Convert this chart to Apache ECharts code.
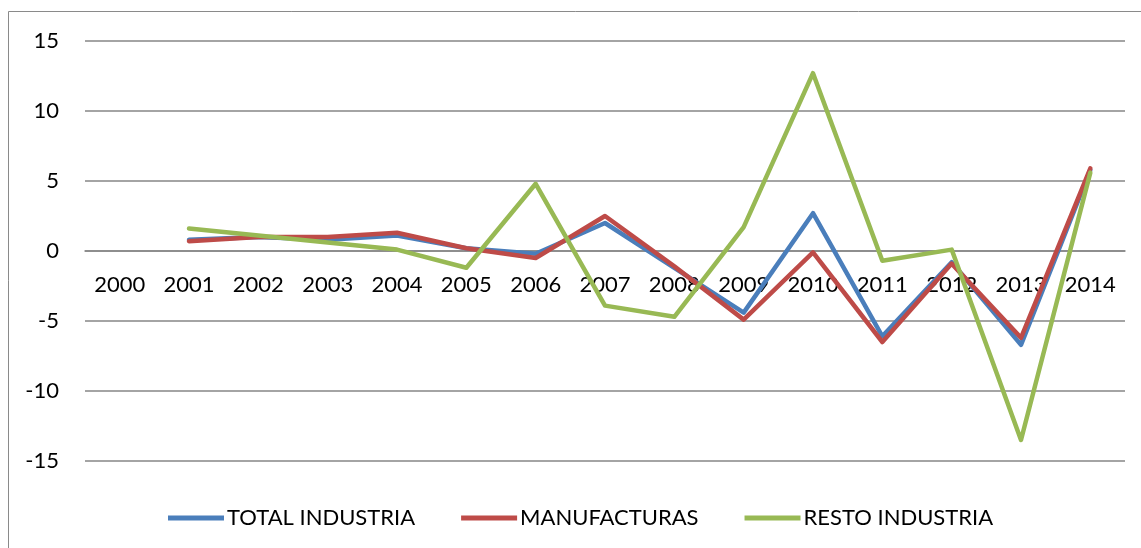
<!DOCTYPE html>
<html>
<head>
<meta charset="utf-8">
<script src="https://cdn.jsdelivr.net/npm/echarts@6/dist/echarts.min.js"></script>
<style>
html,body{margin:0;padding:0;background:#fff;}
#chart{width:1141px;height:548px;}
</style>
</head>
<body>
<div id="chart"></div>
<script>
const years = ['2000','2001','2002','2003','2004','2005','2006','2007','2008','2009','2010','2011','2012','2013','2014'];
const totalIndustria = [null, 0.8, 1.0, 0.8, 1.1, 0.2, -0.2, 2.0, -1.2, -4.4, 2.7, -6.1, -0.8, -6.7, 5.8];
const manufacturas  = [null, 0.7, 1.0, 1.0, 1.3, 0.2, -0.5, 2.5, -1.1, -4.9, -0.1, -6.5, -0.9, -6.2, 5.9];
const restoIndustria = [null, 1.6, 1.1, 0.6, 0.1, -1.2, 4.8, -3.9, -4.7, 1.7, 12.7, -0.7, 0.1, -13.5, 5.6];
const seriesNames = ['TOTAL INDUSTRIA', 'MANUFACTURAS', 'RESTO INDUSTRIA'];
const yTicks = { min: -15, max: 15, interval: 5 };

const colors = ['#4A7EBB', '#BE4B48', '#98B954'];
const font = 'Lato, "Open Sans", sans-serif';
const chart = echarts.init(document.getElementById('chart'));
const dataSets = [totalIndustria, manufacturas, restoIndustria];

chart.setOption({
  animation: false,
  backgroundColor: '#fff',
  color: colors,
  graphic: [{
    type: 'rect',
    shape: { x: 8.5, y: 11.5, width: 1200, height: 600 },
    style: { fill: 'none', stroke: '#8a8a8a', lineWidth: 1 },
    silent: true, z: -10
  }],
  grid: { left: 85, right: 16, top: 41, bottom: 87, containLabel: false },
  legend: {
    left: 163, top: 502,
    icon: 'rect',
    itemWidth: 56, itemHeight: 5,
    itemGap: 46,
    textStyle: { color: '#000', fontSize: 22, fontFamily: font, padding: [0,0,0,-2] },
    data: seriesNames
  },
  xAxis: {
    type: 'category',
    data: years,
    boundaryGap: true,
    offset: -210,
    axisLine: { onZero: false, lineStyle: { color: '#868686', width: 1.5 } },
    axisTick: { show: false },
    axisLabel: { color: '#000', fontSize: 22, fontFamily: font, margin: 23, interval: 0 }
  },
  yAxis: {
    type: 'value',
    min: yTicks.min, max: yTicks.max, interval: yTicks.interval,
    axisLine: { show: false },
    axisTick: { show: false },
    splitLine: { lineStyle: { color: '#868686', width: 1.5 } },
    axisLabel: { color: '#000', fontSize: 22, fontFamily: font, margin: 26 }
  },
  series: dataSets.map((d, i) => ({
    name: seriesNames[i],
    type: 'line',
    data: d,
    showSymbol: false,
    symbol: 'none',
    lineStyle: { width: 4.5, color: colors[i], cap: 'round', join: 'round' },
    itemStyle: { color: colors[i] }
  }))
});
</script>
</body>
</html>
